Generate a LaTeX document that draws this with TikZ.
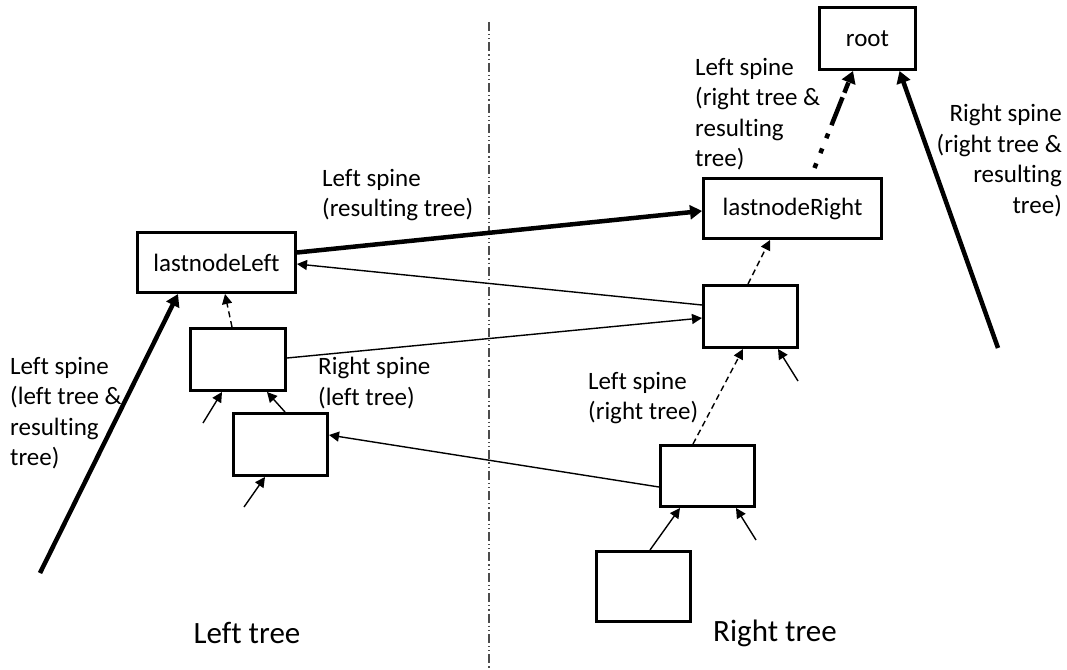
\documentclass[tikz,border=0pt]{standalone}
\usepackage{fontspec}
\setmainfont{Carlito}[Ligatures=NoCommon]
\usetikzlibrary{arrows.meta,calc}
\begin{document}
\begin{tikzpicture}[x=1pt,y=-1pt,
  box/.style={draw,line width=3pt,rectangle,inner sep=0pt,font=\fontsize{25}{30.5}\selectfont},
  thinarrow/.style={line width=1.4pt,-{Triangle[length=10pt,width=10pt]}},
  thickarrow/.style={line width=4.5pt,-{Triangle[length=12pt,width=14pt]}},
  dasharrow/.style={thinarrow,dash pattern=on 6pt off 4pt},
  lbl/.style={inner sep=0pt,font=\fontsize{25}{30.5}\selectfont},
  big/.style={inner sep=0pt,font=\fontsize{31}{36}\selectfont}]
\useasboundingbox (0,0) rectangle (1067,669);
\fill[white] (0,0) rectangle (1067,669);
% divider
\draw[gray!60!black,line width=1.8pt,dash pattern=on 9pt off 3pt on 1.2pt off 3pt on 1.2pt off 3pt] (489,22) -- (489,669);
% nodes
\node[box,minimum width=96pt,minimum height=62pt] (root) at (867.5,38.5) {root};
\node[box,minimum width=178pt,minimum height=60pt] (lnR) at (792.5,208.5) {lastnodeRight};
\node[box,minimum width=158pt,minimum height=60pt] (lnL) at (216.5,262.5) {lastnodeLeft};
\node[box,minimum width=95pt,minimum height=62pt] (L1) at (238,359.5) {};
\node[box,minimum width=94pt,minimum height=62pt] (L2) at (280.5,444.5) {};
\node[box,minimum width=94pt,minimum height=62pt] (R1) at (750.5,316.5) {};
\node[box,minimum width=94pt,minimum height=61pt] (R2) at (707.5,476) {};
\node[box,minimum width=94pt,minimum height=70pt] (R3) at (643.5,586.5) {};
% free ends
\coordinate (ls) at (40,573);
\coordinate (rs) at (998,348);
\coordinate (s1) at (203,423);
\coordinate (s2) at (244,507);
\coordinate (s3) at (798,381);
\coordinate (s4) at (756,540);
% thick arrows
\draw[thickarrow] (ls) -- ([xshift=-38.5pt]lnL.south);
\draw[thickarrow] (rs) -- ([xshift=32pt]root.south);
\draw[thickarrow] ([yshift=10pt]lnL.east) -- ([yshift=-2.5pt]lnR.west);
\draw[line width=4.5pt,dash pattern=on 5pt off 11pt on 5pt off 11pt on 5pt off 9pt on 30pt,-{Triangle[length=12pt,width=14pt]}] ([xshift=22pt,yshift=9pt]lnR.north) -- ([xshift=-14.5pt]root.south);
% thin arrows
\draw[thinarrow] ([yshift=11.5pt]R1.west) -- ([yshift=-1.5pt]lnL.east);
\draw[thinarrow] ([yshift=1.5pt]L1.east) -- ([yshift=-1.5pt]R1.west);
\draw[thinarrow] ([yshift=-11pt]R2.west) -- ([yshift=9.5pt]L2.east);
% dashed
\draw[dasharrow] ([xshift=-6pt]L1.north) -- ([xshift=8.5pt]lnL.south);
\draw[dasharrow] ([xshift=-2.5pt]R1.north) -- ([xshift=-22.5pt]lnR.south);
\draw[dasharrow] ([xshift=-14.5pt]R2.north) -- ([xshift=-7.5pt]R1.south);
% stubs
\draw[thinarrow] (s1) -- ([xshift=-16pt]L1.south);
\draw[thinarrow] ([xshift=4.5pt]L2.north) -- ([xshift=29pt]L1.south);
\draw[thinarrow] (s2) -- ([xshift=-15.5pt]L2.south);
\draw[thinarrow] (s3) -- ([xshift=27.5pt]R1.south);
\draw[thinarrow] ([xshift=6.5pt]R3.north) -- ([xshift=-27.5pt]R2.south);
\draw[thinarrow] (s4) -- ([xshift=28.5pt]R2.south);
% labels
\node[lbl,align=left,anchor=north west] (t1) at (695,58) {Left spine\\(right tree \&\\resulting\\tree)};
\node[lbl,align=right,anchor=north east] (t2) at (1062,104) {Right spine\\(right tree \&\\resulting\\tree)};
\node[lbl,align=left,anchor=north west] (t3) at (322,169) {Left spine\\(resulting tree)};
\node[lbl,align=left,anchor=north west] (t4) at (10,357) {Left spine\\(left tree \&\\resulting\\tree)};
\node[lbl,align=left,anchor=north west] (t5) at (318,357) {Right spine\\(left tree)};
\node[lbl,align=left,anchor=north west] (t6) at (588,372) {Left spine\\(right tree)};
\node[big] (t7) at (247,633) {Left tree};
\node[big] (t8) at (775,633) {Right tree};
\end{tikzpicture}
\end{document}
